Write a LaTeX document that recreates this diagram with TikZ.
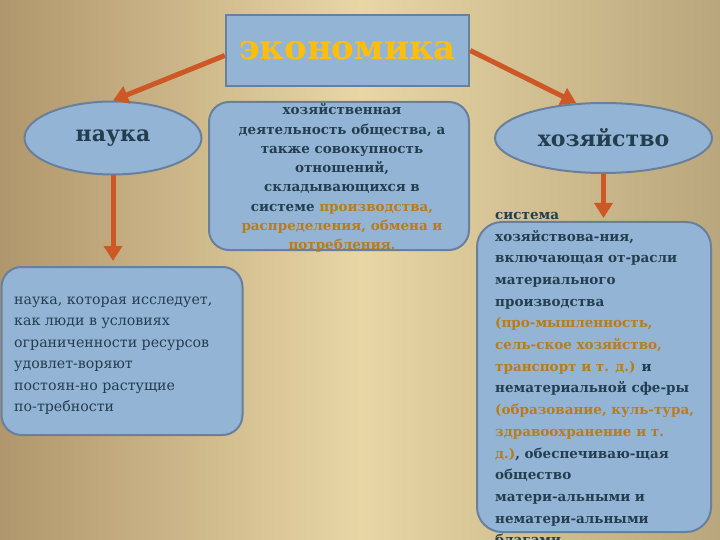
\documentclass[tikz,border=0pt]{standalone}
\usepackage{fontspec}
\setmainfont{DejaVu Serif}
\usetikzlibrary{arrows.meta,shapes.geometric}
\definecolor{bgL}{RGB}{176,150,108}
\definecolor{bgM}{RGB}{232,214,165}
\definecolor{bgR}{RGB}{186,166,124}
\definecolor{boxF}{RGB}{148,180,214}
\definecolor{boxD}{RGB}{105,128,156}
\definecolor{tealT}{RGB}{35,62,78}
\definecolor{goldT}{RGB}{185,125,20}
\definecolor{ecoT}{RGB}{255,190,10}
\definecolor{arrC}{RGB}{205,88,38}
\newcommand{\gd}[1]{\textcolor{goldT}{#1}}
\begin{document}
\begin{tikzpicture}[x=1pt,y=-1pt,
  shapebase/.style={fill=boxF, draw=boxD, line width=2pt},
  ecobox/.style={shapebase, line width=2.5pt, inner sep=0pt},
  ell/.style={shapebase, ellipse, inner sep=0pt, text=tealT, font=\bfseries\fontsize{22}{26}\selectfont},
  rbox/.style={shapebase, rounded corners=20pt, inner sep=0pt},
  txt/.style={inner sep=0pt, text=tealT, anchor=north west, align=left},
  arr/.style={draw=arrC, line width=5pt, -{Triangle[width=18pt,length=15pt]}}]
\clip (0,0) rectangle (720,540);
\shade[left color=bgL, right color=bgR, middle color=bgM] (0,0) rectangle (720,540);
% top box
\node[ecobox, minimum width=243pt, minimum height=71pt, text=ecoT,
  font=\bfseries\fontsize{34}{40}\selectfont] (eco) at (347.5,50.5) {экономика};
% ellipses
\node[ell, minimum width=177pt, minimum height=73pt] (nauka) at (113,138) {наука};
\node[ell, minimum width=217pt, minimum height=70pt] (xoz) at (603.5,138) {хозяйство};
% rounded boxes
\node[rbox, minimum width=260pt, minimum height=148pt] (mid) at (339,176) {};
\node[rbox, minimum width=241pt, minimum height=168pt] (lbox) at (122,351) {};
\node[rbox, minimum width=234pt, minimum height=310pt, rounded corners=25pt] (rbox) at (594,377) {};
% texts
\node[txt, anchor=north, align=center, font=\bfseries\fontsize{13.5}{19.3}\selectfont] (midt) at (342,101)
 {\strut хозяйственная\\
  деятельность общества, а\\
  также совокупность\\
  отношений,\\
  складывающихся в\\
  системе \gd{производства,}\\
  \gd{распределения, обмена и}\\
  \gd{потребления.}};
\node[txt, font=\fontsize{14.2}{21.5}\selectfont] (lt) at (14,289)
 {\strut наука, которая исследует,\\
  как люди в условиях\\
  ограниченности ресурсов\\
  удовлет-воряют\\
  постоян-но растущие\\
  по-требности};
\node[txt, font=\bfseries\fontsize{13.5}{21.7}\selectfont] (rt) at (495,204)
 {\strut система\\
  хозяйствова-ния,\\
  включающая от-расли\\
  материального\\
  производства\\
  \gd{(про-мышленность,}\\
  \gd{сель-ское хозяйство,}\\
  \gd{транспорт и т. д.)} и\\
  нематериальной сфе-ры\\
  \gd{(образование, куль-тура,}\\
  \gd{здравоохранение и т.}\\
  \gd{д.)}, обеспечиваю-щая\\
  общество\\
  матери-альными и\\
  нематери-альными\\
  благами.};
% arrows
\draw[arr] ([yshift=-5pt]eco.west) -- (nauka.north);
\draw[arr] (eco.east) -- (xoz.128);
\draw[arr, shorten >=5pt] (nauka.south) -- (nauka.south |- lbox.north);
\draw[arr, shorten >=3pt] (xoz.south) -- (xoz.south |- rbox.north);
\end{tikzpicture}
\end{document}
